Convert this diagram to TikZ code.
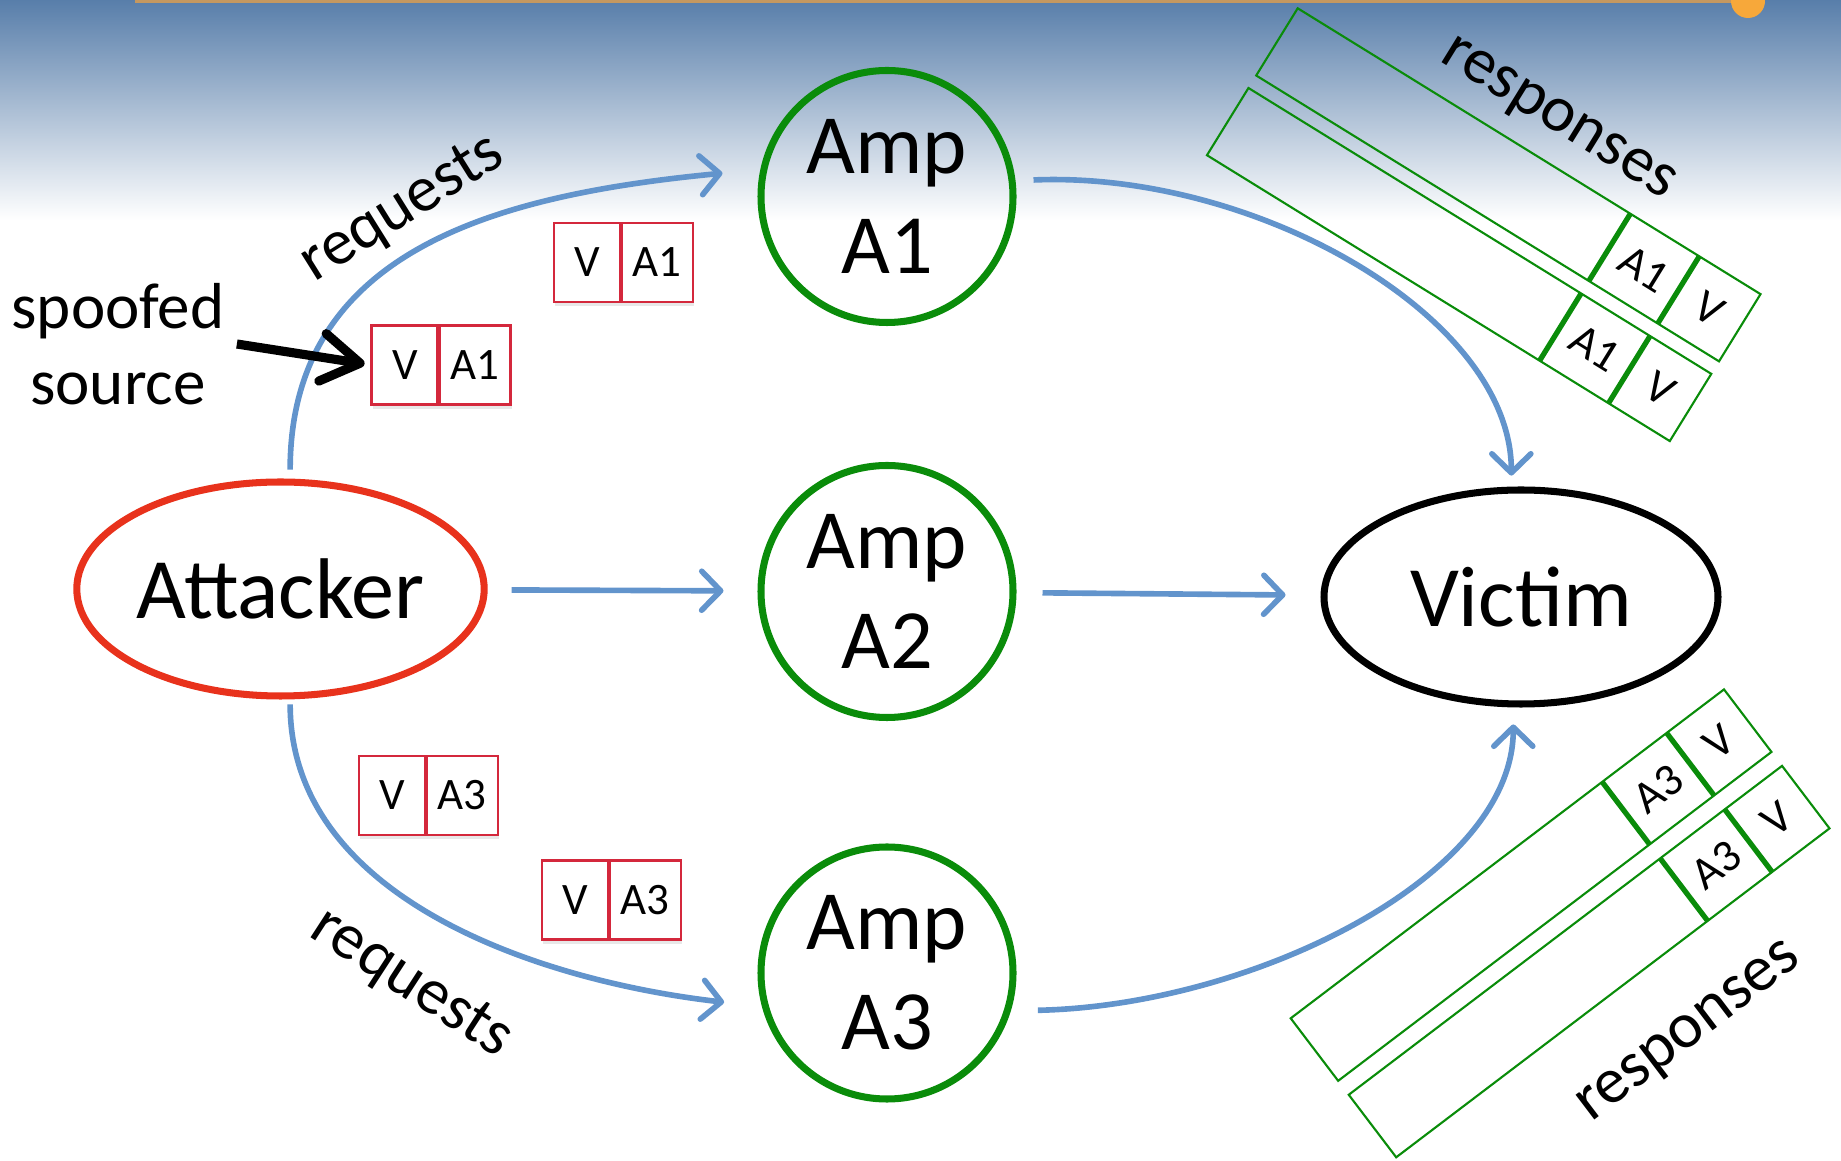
\documentclass[tikz,border=0pt]{standalone}
\usepackage{fontspec}
\setmainfont{Carlito}
\usetikzlibrary{arrows.meta, positioning, shapes.geometric, shadows}

\definecolor{pfeilblau}{RGB}{98,148,204}
\definecolor{ampgruen}{RGB}{10,140,10}
\definecolor{angriffrot}{RGB}{232,50,28}
\definecolor{paketrot}{RGB}{212,40,60}
\definecolor{himmel}{RGB}{88,126,170}
\definecolor{dunst}{RGB}{178,200,221}
\definecolor{leiste}{RGB}{196,152,96}
\definecolor{punkt}{RGB}{247,168,58}

\begin{document}
\begin{tikzpicture}[x=1cm, y=1cm,
			>={Straight Barb[round,length=1.9mm,width=3.9mm]},   %Pfeilspitzen
			amp/.style={circle, draw=ampgruen, line width=2pt, minimum size=2.52cm, inner sep=0pt, align=center, font=\fontsize{24}{28.5}\selectfont},
			rechner/.style={ellipse, line width=2pt, minimum width=3.94cm, minimum height=2.14cm, inner sep=0pt, font=\fontsize{24.5}{28.5}\selectfont},
			fluss/.style={->, draw=pfeilblau, line width=1.6pt},
			zelle/.style={draw=paketrot, fill=white, line width=0.6pt, minimum height=0.79cm, inner sep=0pt, outer sep=0pt, font=\fontsize{12.8}{15}\selectfont, drop shadow={shadow xshift=0.4pt, shadow yshift=-1.2pt, opacity=0.18}},
			trenner/.style={draw=paketrot, line width=1.3pt},
			antwort/.style={draw=ampgruen, line width=0.6pt},
			antworttrenner/.style={draw=ampgruen, line width=1.5pt},
			schrift/.style={font=\fontsize{18.5}{21.5}\selectfont},
			klein/.style={font=\fontsize{13}{15}\selectfont}]
			\useasboundingbox (0,0) rectangle (18.41,11.6);
			%Hintergrund
			\shade[top color=himmel, middle color=dunst, bottom color=white] (0,9.4) rectangle (18.41,11.6);
			\draw[leiste, line width=0.9pt] (1.35,11.585) -- (17.35,11.585);
			\fill[punkt] (17.48,11.59) circle (0.17);
			% Knoten
			\node[rechner, draw=angriffrot] (angreifer) at (2.805,5.71) {Attacker};
			\node[rechner, draw=black] (opfer) at (15.21,5.63) {Victim};
			\node[amp] (amp1) at (8.87,9.635) {Amp\\A1};
			\node[amp] (amp2) at (8.87,5.685) {Amp\\A2};
			\node[amp] (amp3) at (8.87,1.87) {Amp\\A3};
			% Anfragen mit gefaelschter Absenderadresse
			\foreach \n/\x/\y/\ziel in {1/5.875/8.975/A1, 2/4.05/7.95/A1, 3/3.925/3.645/A3, 4/5.755/2.60/A3}{
				\node[zelle, minimum width=0.67cm] (pv\n) at (\x,\y) {V};
				\node[zelle, minimum width=0.72cm, right=0pt of pv\n] (pa\n) {\ziel};
				\draw[trenner] (pv\n.north east) -- (pv\n.south east);
			}
			% Pfeile
			\draw[fluss, shorten <=0.9mm, shorten >=3.8mm] (angreifer.85) .. controls +(0,2.3) and +(-2.6,-0.25) .. (amp1.168);
			\draw[fluss, shorten <=2.4mm, shorten >=3.4mm] (angreifer) -- (amp2);
			\draw[fluss, shorten <=0.5mm, shorten >=3.8mm] (angreifer.-85) .. controls +(0,-2.0) and +(-2.2,0.25) .. (amp3.195);
			\draw[fluss, shorten <=1.8mm, shorten >=1.1mm] (amp1.7) .. controls +(2.4,0.1) and +(0,1.7) .. (opfer.95);
			\draw[fluss, shorten <=2.6mm, shorten >=3.5mm] (amp2) -- (opfer);
			\draw[fluss, shorten <=2.7mm, shorten >=1.7mm] (amp3.-17) .. controls +(2.4,0.05) and +(0,-1.7) .. (opfer.-94);
			% Beschriftung
			\node[schrift, align=center] (quelle) at (1.18,8.16) {spoofed\\source};
			\draw[-{Straight Barb[round,length=3.8mm,width=4.8mm]}, line width=2.6pt, shorten >=0.7mm] (quelle.east) -- (pv2.west);
			\node[schrift, rotate=32] (anfrageoben) at (4.03,9.51) {requests};
			\node[schrift, rotate=-33] (anfrageunten) at (4.11,1.76) {requests};
			% Antworten an das Opfer
			\begin{scope}[shift={(12.977,11.517)}, rotate=-31.7, transform shape]
				\foreach \k/\y in {1/0, 2/-0.937}{
					\draw[antwort] (0,\y) rectangle ++(5.44,-0.79);
					\draw[antworttrenner] (3.91,\y) -- ++(0,-0.79) (4.72,\y) -- ++(0,-0.79);
					\node[klein] (ra\k) at (4.315,\y-0.395) {A1};
					\node[klein] (rv\k) at (5.08,\y-0.395) {V};
				}
				\node[schrift, anchor=base] (antwortoben) at (2.8,0.30) {responses};
			\end{scope}
			\begin{scope}[shift={(12.907,1.417)}, rotate=37.2, transform shape]
				\foreach \k/\y in {1/0, 2/-0.96}{
					\draw[antwort] (0,\y) rectangle ++(5.44,-0.785);
					\draw[antworttrenner] (3.91,\y) -- ++(0,-0.785) (4.72,\y) -- ++(0,-0.785);
					\node[klein] (rb\k) at (4.315,\y-0.3925) {A3};
					\node[klein] (rw\k) at (5.08,\y-0.3925) {V};
				}
				\node[schrift, anchor=base] (antwortunten) at (3.09,-2.65) {responses};
			\end{scope}
		\end{tikzpicture}
\end{document}
